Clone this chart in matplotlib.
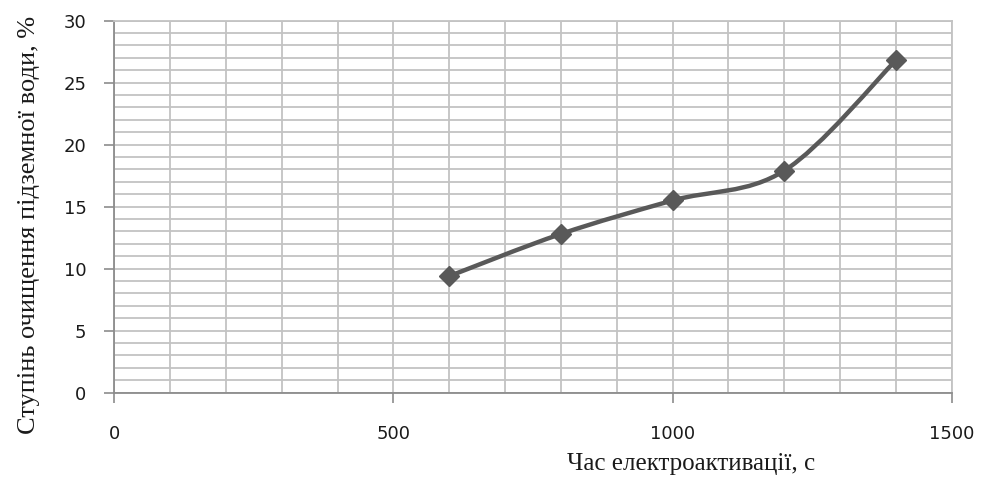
import matplotlib
matplotlib.use('Agg')
import matplotlib.pyplot as plt
from matplotlib.path import Path
from matplotlib.patches import PathPatch
from matplotlib.ticker import MultipleLocator
import numpy as np

# electroactivation time, s  and purification degree, %
time_s = [600, 800, 1000, 1200, 1400]
purification = [9.4, 12.8, 15.5, 17.9, 26.8]

x_label = 'Час електроактивації, с'
y_label = 'Ступінь очищення підземної води, %'

line_color = '#595959'
grid_color = '#c3c3c3'
axis_color = '#8c8c8c'


def smooth_path(xs, ys):
    # Catmull-Rom style bezier, like the "smoothed line" option in a spreadsheet
    pts = np.column_stack([xs, ys]).astype(float)
    n = len(pts)
    verts = [pts[0]]
    codes = [Path.MOVETO]
    for i in range(n - 1):
        p0 = pts[i - 1] if i > 0 else pts[i]
        p1 = pts[i]
        p2 = pts[i + 1]
        p3 = pts[i + 2] if i + 2 < n else pts[i + 1]
        c1 = p1 + (p2 - p0) / 6.0
        c2 = p2 - (p3 - p1) / 6.0
        verts += [c1, c2, p2]
        codes += [Path.CURVE4] * 3
    return Path(verts, codes)


fig = plt.figure(figsize=(9.81, 4.79), dpi=100)
ax = fig.add_axes([0.1165, 0.1802, 0.8536, 0.7766])

ax.set_xlim(0, 1500)
ax.set_ylim(0, 30)

ax.xaxis.set_major_locator(MultipleLocator(500))
ax.xaxis.set_minor_locator(MultipleLocator(100))
ax.yaxis.set_major_locator(MultipleLocator(5))
ax.yaxis.set_minor_locator(MultipleLocator(1))

ax.grid(which='both', color=grid_color, linewidth=1.3)
ax.set_axisbelow(True)

ax.tick_params(axis='both', which='major', length=7, width=1.2, color=axis_color,
               labelsize=13, labelcolor='#1a1a1a')
ax.tick_params(axis='x', which='major', pad=16)
ax.tick_params(axis='y', which='major', pad=13)
ax.tick_params(which='minor', length=0)

for side in ['left', 'bottom']:
    ax.spines[side].set_color(axis_color)
    ax.spines[side].set_linewidth(1.3)
for side in ['top', 'right']:
    ax.spines[side].set_color(grid_color)
    ax.spines[side].set_linewidth(1.3)

patch = PathPatch(smooth_path(time_s, purification), facecolor='none',
                  edgecolor=line_color, linewidth=3.2, zorder=3, capstyle='round')
ax.add_patch(patch)
ax.plot(time_s, purification, linestyle='none', marker='D', markersize=10,
        color=line_color, zorder=4)

ax.set_xlabel(x_label, family='Liberation Serif', fontsize=18, color='#1a1a1a')
ax.xaxis.set_label_coords(0.689, -0.163)
ax.set_ylabel(y_label, family='Liberation Serif', fontsize=19, color='#1a1a1a')
ax.yaxis.set_label_coords(-0.089, 0.45)

fig.savefig('out.png', dpi=100)
